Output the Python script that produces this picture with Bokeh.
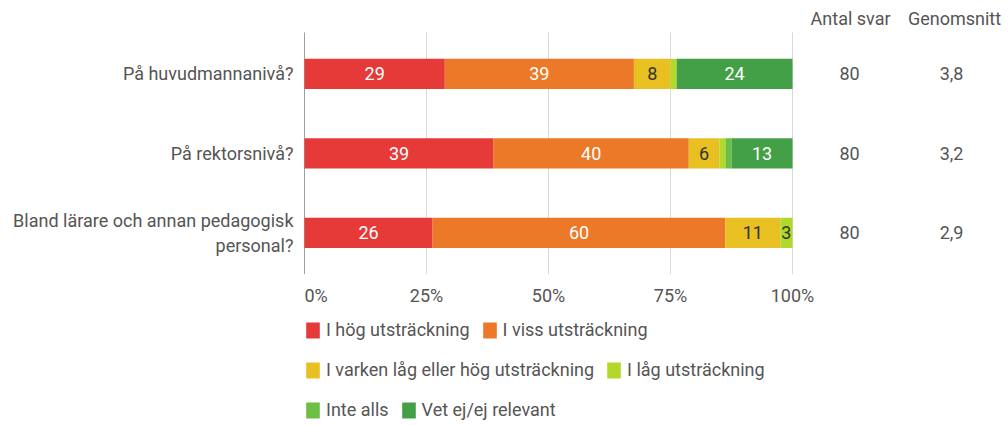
from bokeh.plotting import figure
from bokeh.models import Range1d, FixedTicker, Legend, LegendItem, ColumnDataSource
from bokeh.core.properties import value
from bokeh.embed import file_html
from bokeh.resources import INLINE

# ---- data (percent of 80 answers) ----
questions = ["På huvudmannanivå?", "På rektorsnivå?",
             "Bland lärare och annan pedagogisk\npersonal?"]
series_names = ["I hög utsträckning", "I viss utsträckning",
                "I varken låg eller hög utsträckning", "I låg utsträckning",
                "Inte alls", "Vet ej/ej relevant"]
hog = [28.75, 38.75, 26.25]
viss = [38.75, 40.0, 60.0]
varken = [7.5, 6.25, 11.25]
lag = [1.25, 1.25, 2.5]
inte_alls = [0.0, 1.25, 0.0]
vet_ej = [23.75, 12.5, 0.0]
antal_svar = [80, 80, 80]
genomsnitt = [3.8, 3.2, 2.9]
col_headers = ["Antal svar", "Genomsnitt"]
x_ticks = [0, 25, 50, 75, 100]
x_tick_labels = ["0%", "25%", "50%", "75%", "100%"]

series = [hog, viss, varken, lag, inte_alls, vet_ej]
colors = ["#E53A37", "#EB7927", "#E8C021", "#B2D82B", "#6DBE45", "#44A047"]
label_colors = ["#ffffff", "#ffffff", "#333333", "#333333", "#333333", "#ffffff"]

FONT = value("Roboto")
FS = value("18px")
TXT = "#555555"

rows = list(range(len(questions)))

p = figure(width=1004, height=424, output_backend="svg", toolbar_location=None,
           x_axis_location=None,
           x_range=Range1d(-0.205, 143.44), y_range=Range1d(4.411, -0.922),
           min_border_left=303, min_border_right=0, min_border_top=0,
           min_border_bottom=0)
p.outline_line_color = None
p.xgrid.visible = False
p.ygrid.visible = False

# grid lines
grid_colors = ["#9e9e9e"] + ["#d9d9d9"] * (len(x_ticks) - 1)
p.segment(x0=x_ticks, y0=[-0.52] * len(x_ticks), x1=x_ticks, y1=[2.52] * len(x_ticks),
          line_color=grid_colors, line_width=1)

# stacked bars
bars = []
lefts = [0.0] * len(rows)
lx, ly, lt, lc = [], [], [], []
for vals, col, tcol in zip(series, colors, label_colors):
    rights = [a + b for a, b in zip(lefts, vals)]
    src = ColumnDataSource(dict(y=rows, left=lefts, right=rights))
    r = p.hbar(y="y", left="left", right="right", height=0.38, source=src,
               fill_color=col, line_color=None)
    bars.append(r)
    for i, v in enumerate(vals):
        if v >= 2.5:
            lx.append(lefts[i] + v / 2)
            ly.append(rows[i])
            lt.append(str(int(v + 0.5)))
            lc.append(tcol)
    lefts = rights

p.text(x=lx, y=ly, text=lt, text_color=lc, text_align="center",
       text_baseline="middle", text_font=FONT, text_font_size=FS)

# x tick labels (first one kept inside the plot edge)
p.text(x=x_ticks[:1], y=[2.789], text=x_tick_labels[:1], text_color=TXT,
       text_align="left", text_baseline="middle", text_font=FONT, text_font_size=FS)
p.text(x=x_ticks[1:], y=[2.789] * (len(x_ticks) - 1), text=x_tick_labels[1:],
       text_color=TXT, text_align="center", text_baseline="middle",
       text_font=FONT, text_font_size=FS)

# right-hand columns
p.text(x=[111.9, 133.2], y=[-0.696, -0.696], text=col_headers, text_color=TXT,
       text_align="center", text_baseline="middle", text_font=FONT, text_font_size=FS)
p.text(x=[111.7] * len(rows), y=rows, text=[str(a) for a in antal_svar], text_color=TXT,
       text_align="center", text_baseline="middle", text_font=FONT, text_font_size=FS)
p.text(x=[132.6] * len(rows), y=rows,
       text=[f"{g:.1f}".replace(".", ",") for g in genomsnitt], text_color=TXT,
       text_align="center", text_baseline="middle", text_font=FONT, text_font_size=FS)

# y axis with question labels
p.yaxis.ticker = FixedTicker(ticks=rows)
p.yaxis.major_label_overrides = {i: q for i, q in zip(rows, questions)}
p.yaxis.axis_line_color = None
p.yaxis.major_tick_line_color = None
p.yaxis.minor_tick_line_color = None
p.yaxis.major_tick_out = 0
p.yaxis.major_tick_in = 0
p.yaxis.minor_tick_out = 0
p.yaxis.major_label_standoff = 10
p.yaxis.major_label_text_font = "Roboto"
p.yaxis.major_label_text_font_size = "18px"
p.yaxis.major_label_text_color = TXT

# legends (three rows)
for idx, loc in [((0, 1), (1, 84)), ((2, 3), (1, 44)), ((4, 5), (1, 4))]:
    leg = Legend(items=[LegendItem(label=series_names[i], renderers=[bars[i]]) for i in idx],
                 location=loc, orientation="horizontal", padding=0, margin=0,
                 spacing=11, glyph_width=17, glyph_height=20, label_standoff=5,
                 label_height=20, border_line_color=None, background_fill_alpha=0,
                 label_text_font="Roboto", label_text_font_size="18px",
                 label_text_color=TXT)
    p.add_layout(leg, "center")

open("out.html", "w").write(file_html(p, INLINE))
